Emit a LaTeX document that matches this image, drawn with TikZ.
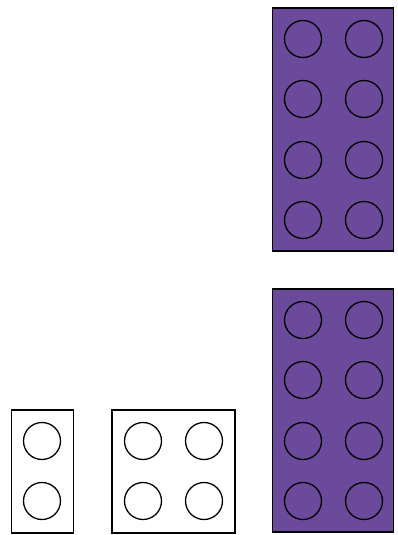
\documentclass[tikz,border=0pt]{standalone}
\begin{document}
\begin{tikzpicture}[x=1pt,y=-1pt,
  brick/.style={draw=black,line width=1.4pt},
  purplebrick/.style={brick,fill=brickpurple},
  whitebrick/.style={brick,fill=white},
  stud/.style={draw=black,line width=1.3pt,circle,minimum size=37pt,inner sep=0pt}]
\definecolor{brickpurple}{HTML}{6B4A9B}
\useasboundingbox (0,0) rectangle (398,535);
% top purple brick
\node[purplebrick,minimum width=121pt,minimum height=243pt,inner sep=0pt] (p1) at (333,129.5) {};
% bottom purple brick
\node[purplebrick,minimum width=121pt,minimum height=243pt,inner sep=0pt] (p2) at (333,410.5) {};
% small white brick
\node[whitebrick,minimum width=62pt,minimum height=123pt,inner sep=0pt] (w1) at (42.5,471.5) {};
% medium white brick
\node[whitebrick,minimum width=123pt,minimum height=123pt,inner sep=0pt] (w2) at (173.5,471.5) {};
% studs
\foreach \r/\y in {1/39,2/99,3/160,4/220}{
  \node[stud] (p1a\r) at (303,\y) {};
  \node[stud] (p1b\r) at (364,\y) {};
}
\foreach \r/\y in {1/320,2/380,3/441,4/501}{
  \node[stud] (p2a\r) at (303,\y) {};
  \node[stud] (p2b\r) at (364,\y) {};
}
\foreach \r/\y in {1/441,2/501}{
  \node[stud] (w1a\r) at (42,\y) {};
  \node[stud] (w2a\r) at (143,\y) {};
  \node[stud] (w2b\r) at (204,\y) {};
}
\end{tikzpicture}
\end{document}
